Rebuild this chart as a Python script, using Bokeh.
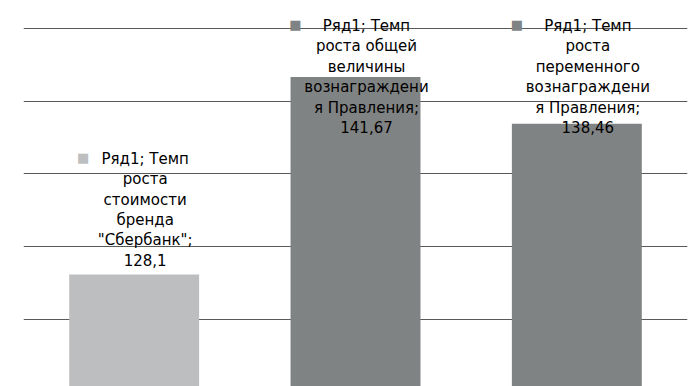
from bokeh.plotting import figure
from bokeh.models import Range1d, FactorRange, FixedTicker, ColumnDataSource
from bokeh.core.properties import value
from bokeh.embed import file_html
from bokeh.resources import INLINE

# ---- data ----
series_name = "Ряд1"
categories = [
    'Темп роста стоимости бренда "Сбербанк"',
    "Темп роста общей величины вознаграждения Правления",
    "Темп роста переменного вознаграждения Правления",
]
values = [128.1, 141.67, 138.46]
label_texts = [
    'Ряд1; Темп\nроста\nстоимости\nбренда\n"Сбербанк";\n128,1',
    "Ряд1; Темп\nроста общей\nвеличины\nвознаграждени\nя Правления;\n141,67",
    "Ряд1; Темп\nроста\nпеременного\nвознаграждени\nя Правления;\n138,46",
]
bar_colors = ["#BDBEC0", "#808383", "#808383"]
grid_ticks = [120, 125, 130, 135, 140, 145]

# ---- layout ----
W, H = 696, 386
left, right = 23, 9
y_start, y_end = 120.4, 146.92
px_per_unit = H / (y_end - y_start)

p = figure(
    width=W, height=H,
    x_range=FactorRange(*categories, range_padding=0),
    y_range=Range1d(y_start, y_end),
    output_backend="svg", toolbar_location=None,
    min_border_left=left, min_border_right=right,
    min_border_top=0, min_border_bottom=0,
)
p.outline_line_color = None
p.axis.visible = False
p.xgrid.visible = False
p.ygrid.ticker = FixedTicker(ticks=grid_ticks)
p.ygrid.grid_line_color = "#595959"
p.ygrid.grid_line_width = 1

src = ColumnDataSource(dict(x=categories, top=values, color=bar_colors))
p.vbar(x="x", top="top", bottom=y_start - 5, width=0.587, fill_color="color",
       line_color=None, source=src)

# ---- data labels (Excel-like, clamped inside the plot area) ----
line_px = 20.6
font_px = 15
lx, ly, lyo, kx, kxo, ky, kyo, kc = [], [], [], [], [], [], [], []
for cat, v, txt, col in zip(categories, values, label_texts, bar_colors):
    lines = txt.split("\n")
    n = len(lines)
    maxw = max(len(s) for s in lines) * 9.0
    block_half = (n - 1) * line_px / 2
    bar_top_px = (y_end - v) * px_per_unit
    first_center = bar_top_px - 116
    if first_center - line_px / 2 < 14:
        y_anchor = y_end
        first_off = 25
    else:
        y_anchor = v
        first_off = -116
    lx.append(cat); ly.append(y_anchor); lyo.append(first_off + block_half)
    kx.append(cat); ky.append(y_anchor); kyo.append(first_off - 1)
    kxo.append(11 - maxw / 2 - 12.5); kc.append(col)

lsrc = ColumnDataSource(dict(x=lx, y=ly, yo=lyo, text=label_texts))
p.text(x="x", y="y", text="text", y_offset="yo", x_offset=11, source=lsrc,
       text_font=value("DejaVu Sans"), text_font_size=f"{font_px}px",
       text_align="center", text_baseline="middle", text_line_height=1.13,
       text_color="#000000")

ksrc = ColumnDataSource(dict(x=kx, y=ky, yo=kyo, xo=kxo, c=kc, t=["■"] * 3))
p.text(x="x", y="y", text="t", x_offset="xo", y_offset="yo", text_color="c",
       source=ksrc, text_font=value("DejaVu Sans"), text_font_size="13px",
       text_align="center", text_baseline="middle")

open("out.html", "w").write(file_html(p, INLINE))
